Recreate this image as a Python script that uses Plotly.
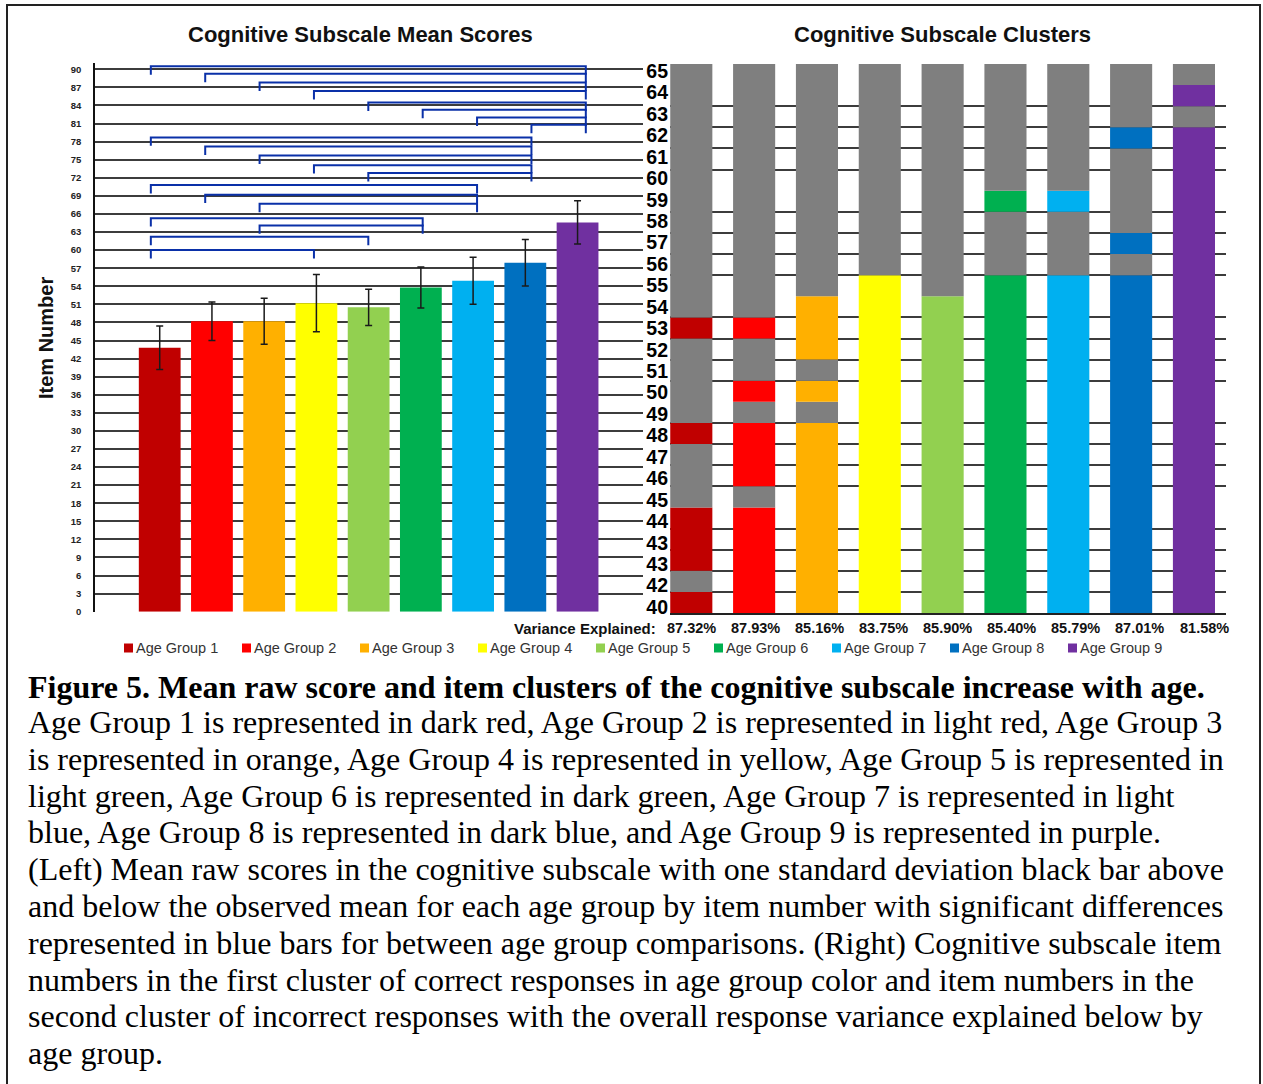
import plotly.graph_objects as go

W, H = 1263, 1084

# ---------------- data ----------------
GROUPS = [f"Age Group {i}" for i in range(1, 10)]
COLORS = ["#C00000", "#FF0000", "#FFB000", "#FFFF00", "#92D050",
          "#00B050", "#00B0F0", "#0070C0", "#7030A0"]
MEAN_SCORES = [43.8, 48.2, 48.2, 51.2, 50.5, 53.8, 54.9, 57.9, 64.6]
SD_SCORES = [3.6, 3.2, 3.8, 4.75, 3.0, 3.4, 3.9, 3.85, 3.6]
LEFT_TICKS = list(range(0, 91, 3))

# significant between-group comparisons (group numbers) and bracket heights
SIG_FROM = [1, 2, 3, 4, 5, 6, 7, 8, 1, 2, 3, 4, 5, 1, 2, 3, 1, 3, 1, 1]
SIG_TO = [9, 9, 9, 9, 9, 9, 9, 9, 8, 8, 8, 8, 8, 7, 7, 7, 6, 6, 5, 4]
SIG_LEVEL = [90.5, 89.25, 87.8, 86.4, 84.5, 83.3, 82.0, 80.8,
             78.7, 77.2, 75.7, 74.1, 72.8,
             70.8, 69.2, 67.7,
             65.3, 64.1,
             62.2,
             60.0]

ITEM_LABELS = ["40", "42", "43", "43", "44", "45", "46", "47", "48", "49",
               "50", "51", "52", "53", "54", "55", "56", "57", "58", "59",
               "60", "61", "62", "63", "64", "65"]
# positions (0 = bottom row) of items in the first (correct) cluster per group
CLUSTER1_AG1 = [0, 2, 3, 4, 8, 13]
CLUSTER1_AG2 = [0, 1, 2, 3, 4, 6, 7, 8, 10, 13]
CLUSTER1_AG3 = [0, 1, 2, 3, 4, 5, 6, 7, 8, 10, 12, 13, 14]
CLUSTER1_AG4 = list(range(0, 16))
CLUSTER1_AG5 = list(range(0, 15))
CLUSTER1_AG6 = list(range(0, 16)) + [19]
CLUSTER1_AG7 = list(range(0, 16)) + [19]
CLUSTER1_AG8 = list(range(0, 16)) + [17, 22]
CLUSTER1_AG9 = list(range(0, 23)) + [24]
CLUSTERS = [CLUSTER1_AG1, CLUSTER1_AG2, CLUSTER1_AG3, CLUSTER1_AG4, CLUSTER1_AG5,
            CLUSTER1_AG6, CLUSTER1_AG7, CLUSTER1_AG8, CLUSTER1_AG9]
VARIANCE = [87.32, 87.93, 85.16, 83.75, 85.90, 85.40, 85.79, 87.01, 81.58]

CAPTION_TITLE = "Figure 5. Mean raw score and item clusters of the cognitive subscale increase with age."
CAPTION_LINES = [
    "Age Group 1 is represented in dark red, Age Group 2 is represented in light red, Age Group 3",
    "is represented in orange, Age Group 4 is represented in yellow, Age Group 5 is represented in",
    "light green, Age Group 6 is represented in dark green, Age Group 7 is represented in light",
    "blue, Age Group 8 is represented in dark blue, and Age Group 9 is represented in purple.",
    "(Left) Mean raw scores in the cognitive subscale with one standard deviation black bar above",
    "and below the observed mean for each age group by item number with significant differences",
    "represented in blue bars for between age group comparisons. (Right) Cognitive subscale item",
    "numbers in the first cluster of correct responses in age group color and item numbers in the",
    "second cluster of incorrect responses with the overall response variance explained below by",
    "age group.",
]

# ---------------- style ----------------
GRAY = "#7F7F7F"
GRID = "#3C3C3C"
BRACKET = "#0A30A8"
SANS = "Liberation Sans, Arial, sans-serif"
SERIF = "Liberation Serif, Times New Roman, serif"
BR_SPREAD, BR_SHIFT, BR_DROP = 1.041, -0.17, 1.4


def px(x):
    return x / W


def py(y):
    return 1 - y / H


fig = go.Figure()

# ---- left: mean scores ----
fig.add_trace(go.Bar(
    x=list(range(9)), y=MEAN_SCORES, width=0.8,
    marker=dict(color=COLORS, line=dict(width=0)),
    error_y=dict(type="data", array=SD_SCORES, color="#1a1a1a", thickness=1.5, width=3.5),
    xaxis="x", yaxis="y", showlegend=False, hoverinfo="skip",
))

bx, by = [], []
for a, b, lv in zip(SIG_FROM, SIG_TO, SIG_LEVEL):
    xa = BR_SHIFT + BR_SPREAD * (a - 1)
    xb = BR_SHIFT + BR_SPREAD * (b - 1)
    bx += [xa, xa, xb, xb, None]
    by += [lv - BR_DROP, lv, lv, lv - BR_DROP, None]
fig.add_trace(go.Scatter(x=bx, y=by, mode="lines", line=dict(color=BRACKET, width=2),
                         xaxis="x", yaxis="y", showlegend=False, hoverinfo="skip"))

# ---- right: clusters ----
cx, cbase, clen, ccol = [], [], [], []
for g, rows in enumerate(CLUSTERS):
    member = [r in rows for r in range(len(ITEM_LABELS))]
    start = 0
    for r in range(1, len(member) + 1):
        if r == len(member) or member[r] != member[start]:
            cx.append(g)
            cbase.append(start)
            clen.append(r - start)
            ccol.append(COLORS[g] if member[start] else GRAY)
            start = r
fig.add_trace(go.Bar(
    x=cx, y=clen, base=cbase, width=0.67,
    marker=dict(color=ccol, line=dict(width=0)),
    xaxis="x2", yaxis="y2", showlegend=False, hoverinfo="skip",
))
# invisible carrier for the item-label axis
fig.add_trace(go.Scatter(x=[0], y=[0], mode="markers", marker=dict(opacity=0),
                         xaxis="x2", yaxis="y3", showlegend=False, hoverinfo="skip"))

fig.update_layout(
    width=W, height=H, margin=dict(l=0, r=0, t=0, b=0, pad=0, autoexpand=False),
    paper_bgcolor="white", plot_bgcolor="white",
    barmode="overlay",
    xaxis=dict(domain=[px(95), px(643)], range=[-1.239, 9.253], visible=False,
               automargin=False),
    yaxis=dict(domain=[py(611.7), py(63.3)], range=[0, 91.0], tickmode="array",
               tickvals=LEFT_TICKS, showgrid=True, gridcolor=GRID, gridwidth=1.8,
               zeroline=False, showline=True, linecolor="#111", linewidth=1.5,
               ticks="", ticklabelstandoff=10, automargin=False,
               tickfont=dict(family=SANS, size=9.5, color="#222", weight="bold")),
    xaxis2=dict(domain=[px(670), px(1226)], range=[-0.339, 8.51], anchor="y2",
                showticklabels=False, showgrid=False, zeroline=False, automargin=False,
                showline=True, linecolor="#222", linewidth=1.8),
    yaxis2=dict(domain=[py(613), py(64)], range=[0, 26], anchor="x2", automargin=False,
                showticklabels=False, showgrid=False, zeroline=False, showline=False,
                ticks="",
                minor=dict(tickmode="linear", tick0=0, dtick=1, showgrid=True,
                           gridcolor=GRID, gridwidth=1.8)),
    yaxis3=dict(overlaying="y2", anchor="x2", range=[-0.28, 25.33], tickmode="array",
                tickvals=list(range(len(ITEM_LABELS))), ticktext=ITEM_LABELS,
                showgrid=False, zeroline=False, showline=False, ticks="",
                ticklabelstandoff=1, automargin=False,
                tickfont=dict(family=SANS, size=19.5, color="#000", weight="bold")),
)


def note(text, x, y, size, xanchor="center", family=SANS, color="#111", weight="normal",
         xref="paper", angle=0):
    return dict(text=text, x=x, y=y, xref=xref, yref="paper", xanchor=xanchor,
                yanchor="middle", showarrow=False, textangle=angle,
                font=dict(family=family, size=size, color=color, weight=weight))


ann = []
ann.append(note("Cognitive Subscale Mean Scores", px(360.5), py(34), 22, weight="bold"))
ann.append(note("Cognitive Subscale Clusters", px(942.5), py(34), 22, weight="bold"))
ann.append(note("Item Number", px(46), py(338), 20, weight="bold", angle=-90))
ann.append(note("Variance Explained:", px(658), py(628), 15, xanchor="right", weight="bold"))
for g, v in enumerate(VARIANCE):
    ann.append(note(f"{v:.2f}%", g + 0.02 * g, py(628), 14.5, weight="bold", xref="x2"))

shapes = []
for g, name in enumerate(GROUPS):
    x0 = 124 + 118 * g
    shapes.append(dict(type="rect", xref="paper", yref="paper", x0=px(x0), x1=px(x0 + 9),
                       y0=py(652.5), y1=py(643.5), fillcolor=COLORS[g], line=dict(width=0)))
    ann.append(note(name, px(x0 + 10), py(648), 14.5, xanchor="left", color="#333"))

ann.append(note(CAPTION_TITLE, px(26), py(687), 32, xanchor="left", family=SERIF,
                color="#000", weight="bold"))
for i, line in enumerate(CAPTION_LINES):
    ann.append(note(line, px(26), py(722 + 36.8 * i), 32, xanchor="left", family=SERIF,
                    color="#000"))

shapes.append(dict(type="rect", xref="paper", yref="paper", x0=px(7), x1=px(1260),
                   y0=py(1095), y1=py(5), line=dict(color="#222", width=2)))

fig.update_layout(annotations=ann, shapes=shapes)
fig.write_html("out.html")
